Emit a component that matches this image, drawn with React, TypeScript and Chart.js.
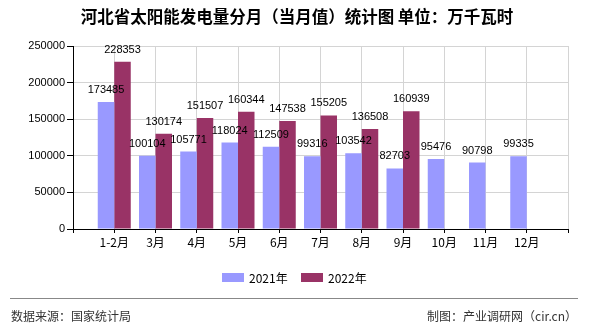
import React, { useEffect, useRef } from "react";
import { Chart, registerables } from "chart.js";

Chart.register(...registerables);

const months = ["", "1-2月", "3月", "4月", "5月", "6月", "7月", "8月", "9月", "10月", "11月", "12月", ""];
const values2021 = [null, 173485, 100104, 105771, 118024, 112509, 99316, 103542, 82703, 95476, 90798, 99335, null];
const values2022 = [null, 228353, 130174, 151507, 160344, 147538, 155205, 136508, 160939, null, null, null, null];
const seriesNames = ["2021年", "2022年"];
const seriesColors = ["#9999ff", "#993366"];
const yTicks = [0, 50000, 100000, 150000, 200000, 250000];
const titleText = "河北省太阳能发电量分月（当月值）统计图 单位：万千瓦时";
const sourceText = "数据来源：国家统计局";
const creditText = "制图：产业调研网（cir.cn）";

const NUM_FONT = "'Liberation Sans', 'Noto Sans CJK SC', sans-serif";
const CJK_FONT = "'Noto Sans CJK SC', 'Liberation Sans', sans-serif";

const decorPlugin = {
  id: "decor",
  afterDatasetsDraw(chart: any) {
    const ctx = chart.ctx;
    ctx.save();
    ctx.font = `11px ${NUM_FONT}`;
    ctx.fillStyle = "#000";
    ctx.textAlign = "center";
    ctx.textBaseline = "middle";
    chart.data.datasets.forEach((ds: any, di: number) => {
      const meta = chart.getDatasetMeta(di);
      meta.data.forEach((bar: any, i: number) => {
        const v = ds.data[i];
        if (v == null) return;
        ctx.fillText(String(v), bar.x, bar.y - 12);
      });
    });
    ctx.restore();
  },
  afterDraw(chart: any) {
    const ctx = chart.ctx;
    ctx.save();
    ctx.fillStyle = "#000";
    ctx.font = `bold 16.5px ${CJK_FONT}`;
    ctx.textAlign = "center";
    ctx.textBaseline = "middle";
    ctx.fillText(titleText, 297, 17);
    const legendX = [222, 301];
    ctx.font = `12px ${CJK_FONT}`;
    ctx.textAlign = "left";
    seriesNames.forEach((name, i) => {
      ctx.fillStyle = seriesColors[i];
      ctx.fillRect(legendX[i], 273, 22, 9);
      ctx.fillStyle = "#000";
      ctx.fillText(name, legendX[i] + 27, 278);
    });
    ctx.strokeStyle = "#888";
    ctx.lineWidth = 1;
    ctx.beginPath();
    ctx.moveTo(10, 298.5);
    ctx.lineTo(578, 298.5);
    ctx.stroke();
    ctx.fillStyle = "#333";
    ctx.font = `12px ${CJK_FONT}`;
    ctx.textAlign = "left";
    ctx.fillText(sourceText, 11, 316);
    ctx.textAlign = "right";
    ctx.fillText(creditText, 577, 316);
    ctx.restore();
  },
};

export default function App() {
  const ref = useRef<HTMLCanvasElement>(null);
  useEffect(() => {
    if (!ref.current) return;
    const chart = new Chart(ref.current, {
      type: "bar",
      data: {
        labels: months,
        datasets: [
          { label: seriesNames[0], data: values2021 as any, backgroundColor: seriesColors[0], categoryPercentage: 0.8, barPercentage: 1 },
          { label: seriesNames[1], data: values2022 as any, backgroundColor: seriesColors[1], categoryPercentage: 0.8, barPercentage: 1 },
        ],
      },
      options: {
        responsive: false,
        animation: false,
        layout: { padding: { left: 0, right: 22, top: 46, bottom: 71 } },
        plugins: { legend: { display: false }, title: { display: false }, tooltip: { enabled: false } },
        scales: {
          x: {
            offset: false,
            grid: { offset: false, color: "#d4d4d4", tickColor: "#000", tickLength: 4, drawTicks: true },
            border: { color: "#000" },
            ticks: { color: "#000", font: { size: 12, family: CJK_FONT }, padding: 2, autoSkip: false, maxRotation: 0 },
            afterFit: (s: any) => { s.height = 30; },
          },
          y: {
            min: 0,
            max: 250000,
            afterBuildTicks: (s: any) => { s.ticks = yTicks.map((v) => ({ value: v })); },
            grid: { color: "#d4d4d4", tickColor: "#000", tickLength: 6 },
            border: { color: "#000" },
            ticks: { color: "#000", font: { size: 11, family: NUM_FONT }, padding: 2, callback: (v: any) => String(v) },
            afterFit: (s: any) => { s.width = 73; },
          },
        },
      },
      plugins: [decorPlugin],
    });
    return () => chart.destroy();
  }, []);
  return (
    <div style={{ position: "absolute", left: 0, top: 0, width: 590, height: 330, background: "#fff" }}>
      <canvas ref={ref} width={590} height={330} style={{ width: 590, height: 330 }} />
    </div>
  );
}
